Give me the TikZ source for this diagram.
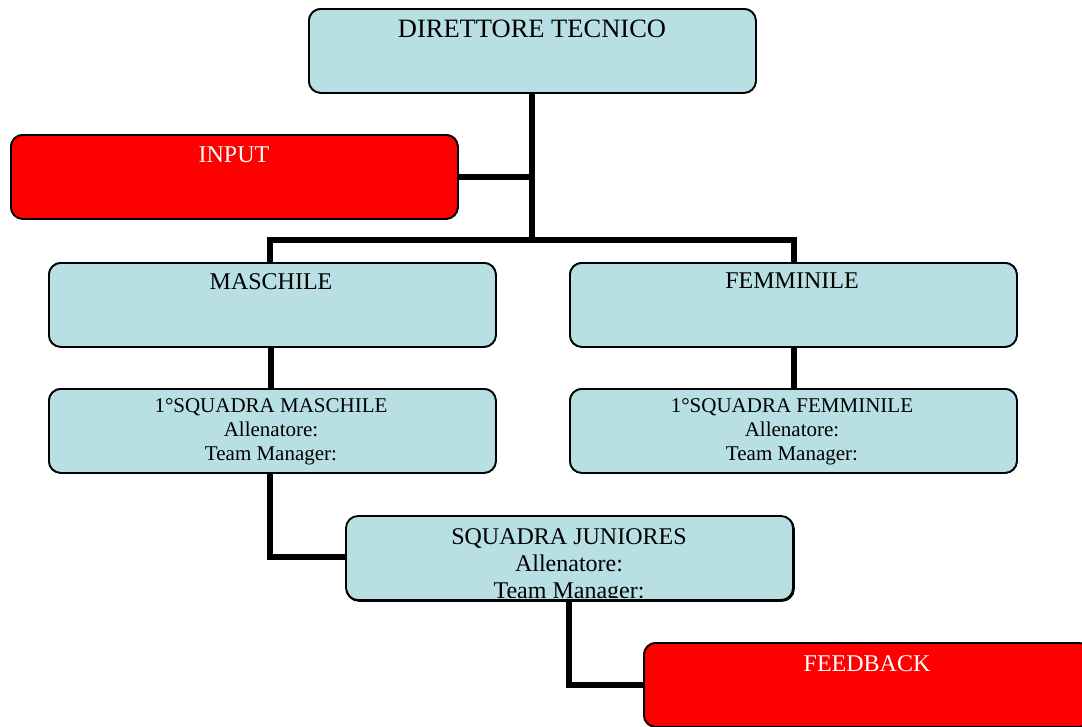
\documentclass[tikz,border=0pt]{standalone}
\usepackage{fontspec}
\setmainfont{Liberation Serif}
\definecolor{boxblue}{RGB}{184,223,227}
\definecolor{boxred}{RGB}{255,0,0}
\begin{document}
\begin{tikzpicture}[x=1pt,y=-1pt,
  blubox/.style={draw=black,line width=1.8pt,fill=boxblue,rounded corners=12pt,inner sep=0pt,
     minimum width=447pt,minimum height=84pt,anchor=north west},
  redbox/.style={blubox,fill=boxred},
  big/.style={font=\fontsize{24}{27}\selectfont,inner sep=0pt,anchor=north,align=center},
  huge/.style={big,font=\fontsize{26.5}{30}\selectfont},
  small/.style={font=\fontsize{21}{24}\selectfont,inner sep=0pt,anchor=north,align=center},
  wtxt/.style={big,text=white},
  conn/.style={line width=5.5pt,line cap=butt}]
\clip (0,0) rectangle (1082,726);
\coordinate (hub) at (532,240);
\coordinate (hl) at (270,240);
\coordinate (hr) at (794,240);
\coordinate (jc) at (270,557);
\coordinate (fc) at (569,685);
% boxes
\node[blubox] (dt) at (308,8) {};
\node[redbox] (inp) at (10,134) {};
\node[blubox] (mas) at (48,262) {};
\node[blubox] (fem) at (569,262) {};
\node[blubox] (sqm) at (48,388) {};
\node[blubox] (sqf) at (569,388) {};
\node[blubox] (jun) at (346,516) {};
\node[redbox] (fb) at (643,642) {};
% connectors
\draw[conn] (dt.south -| hub) -- ([yshift=2.75pt]hub);
\draw[conn] (inp.east |- 0,177) -- (532,177);
\draw[conn,line cap=rect] (hl) -- (hr);
\draw[conn] (hl) -- (mas.north -| hl);
\draw[conn] (hr) -- (fem.north -| hr);
\draw[conn] (mas.south -| 271,0) -- (sqm.north -| 271,0);
\draw[conn] (fem.south -| hr) -- (sqf.north -| hr);
\draw[conn,line join=miter] (sqm.south -| jc) -- (jc) -- (jun.west |- jc);
\draw[conn,line join=miter] (jun.south -| fc) -- (fc) -- (fb.west |- fc);
% redraw boxes over connector ends
\node[blubox] at (308,8) {};
\node[redbox] at (10,134) {};
\node[blubox] at (48,262) {};
\node[blubox] at (569,262) {};
\node[blubox] at (48,388) {};
\node[blubox] at (569,388) {};
\node[redbox] at (643,642) {};
% texts
\node[huge] (tdt) at (532,20) {DIRETTORE TECNICO};
\node[wtxt] (tinp) at (234,147) {INPUT};
\node[big] (tmas) at (271,273) {MASCHILE};
\node[big] (tfem) at (792,273) {FEMMINILE};
\node[small] (tsqm) at (271,398) {1°SQUADRA MASCHILE\\Allenatore:\\Team Manager:};
\node[small] (tsqf) at (792,398) {1°SQUADRA FEMMINILE\\Allenatore:\\Team Manager:};
\begin{scope}
\clip[rounded corners=12pt] (346,516) rectangle (793,597);
\fill[boxblue,rounded corners=12pt] (346,516) rectangle (793,600);
\node[big] (tjun) at (569,528) {SQUADRA JUNIORES\\Allenatore:\\Team Manager:};
\end{scope}
\draw[line width=1.8pt,rounded corners=12pt] (346,516) rectangle (793,600);
\node[wtxt] (tfb) at (867,655) {FEEDBACK};
\end{tikzpicture}
\end{document}
